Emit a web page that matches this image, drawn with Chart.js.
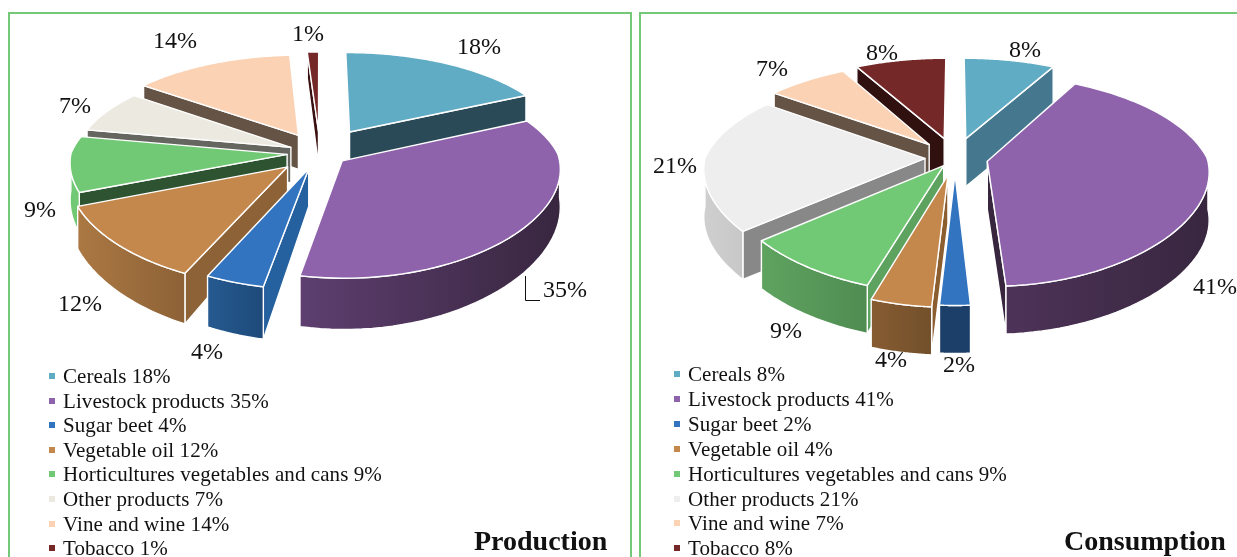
<!DOCTYPE html>
<html lang="en">
<head>
    <meta charset="UTF-8">
    <title>Production and consumption shares</title>
    <script src="https://cdn.jsdelivr.net/npm/chart.js"></script>
    <style>
        html, body { margin: 0; padding: 0; background: #fff; }
        body { position: relative; width: 1237px; height: 557px; overflow: hidden; font-family: "Liberation Serif", serif; color: #111; }
        .panel { position: absolute; top: 12px; height: 600px; border: 2px solid #74c978; box-sizing: border-box; }
        canvas { position: absolute; top: 0; }
        .row { position: absolute; font-size: 21px; letter-spacing: 0.08px; line-height: 24px; white-space: nowrap; }
        .mark { position: absolute; width: 6px; height: 6px; }
        .title { position: absolute; font-size: 28px; font-weight: bold; line-height: 32px; white-space: nowrap; }
    </style>
</head>
<body>
    <div class="panel" style="left:8px;width:624px"></div>
    <div class="panel" style="left:639px;width:620px"></div>
    <canvas id="productionChart" width="636" height="557" style="left:0"></canvas>
    <canvas id="consumptionChart" width="601" height="557" style="left:636px"></canvas>
    <script>
        // Chart values
        const categories = ['Cereals', 'Livestock products', 'Sugar beet', 'Vegetable oil', 'Horticultures vegetables and cans', 'Other products', 'Vine and wine', 'Tobacco'];
        const productionValues = [18, 35, 4, 12, 9, 7, 14, 1];
        const consumptionValues = [8, 41, 2, 4, 9, 21, 7, 8];

        const topColors = ['#60acc5', '#8e63ac', '#3274c0', '#c4874c', '#72c975', '#eceae0', '#fbd2b4', '#752828'];
        const consumptionTop = ['#60acc5', '#8e63ac', '#3274c0', '#c4874c', '#72c975', '#eeeeee', '#fbd2b4', '#752828'];

        // Look of each pie: explode distance, side colours, label centres
        const productionView = {
            offsets: [57, 28, 36, 44, 33, 32, 46, 50],
            flat: 0.45, persp: 0.15, depth: 36, depthPow: 2, leader: true,
            wall: ['#2b4a58', '#38263f', '#25609f', '#8d6236', '#2d5330', '#666660', '#655345', '#3a1010'],
            bandFrom: ['#2b4a58', '#5e3f70', '#265a90', '#ab7843', '#72c975', '#bdbbb3', '#c9a890', '#3a1010'],
            bandTo: ['#2b4a58', '#38263f', '#1d4a7a', '#8d6236', '#72c975', '#bdbbb3', '#c9a890', '#3a1010'],
            labelX: [479, 565, 207, 80, 40, 75, 175, 308],
            labelY: [48, 291, 353, 305, 211, 107, 42, 35]
        };
        const consumptionView = {
            offsets: [45, 33, 34, 37, 20, 30, 40, 45],
            flat: 0.46, persp: 0.18, depth: 48, depthPow: 0, leader: false,
            wall: ['#45788f', '#38263f', '#1c3f6a', '#8b5e30', '#5da35f', '#888888', '#655345', '#311010'],
            bandFrom: ['#45788f', '#4d3358', '#1c3f6a', '#875c32', '#5fa360', '#cfcfcf', '#c9a890', '#311010'],
            bandTo: ['#45788f', '#38263f', '#1c3f6a', '#72502b', '#4f8c51', '#c8c8c8', '#c9a890', '#311010'],
            labelX: [389, 579, 323, 255, 150, 39, 136, 246],
            labelY: [51, 288, 366, 361, 332, 167, 70, 54]
        };

        // Draws the arcs the library laid out as raised, tilted slices
        const pie3d = {
            id: 'pie3d',
            beforeDatasetsDraw(chart, args, opts) {
                const view = opts.view;
                const ctx = chart.ctx;
                const arcs = chart.getDatasetMeta(0).data;
                const R = arcs[0].outerRadius;
                const cx = arcs[0].x;
                const cy = arcs[0].y;

                function project(px, py) {
                    const w = 1 / (1 - view.persp * py / R);
                    return {
                        // near side spreads less sideways than it drops
                        x: cx + px * (w < 1 ? w : Math.sqrt(w)),
                        y: cy + py * view.flat * w,
                        d: view.depth * Math.pow(w, view.depthPow)
                    };
                }
                function down(p) {
                    return { x: p.x, y: p.y + p.d };
                }
                function poly(points, fill) {
                    ctx.beginPath();
                    points.forEach((p, i) => i ? ctx.lineTo(p.x, p.y) : ctx.moveTo(p.x, p.y));
                    ctx.closePath();
                    ctx.fillStyle = fill;
                    ctx.fill();
                    ctx.stroke();
                }

                const order = arcs.map((arc, i) => i).sort((a, b) => {
                    const mid = i => (arcs[i].startAngle + arcs[i].endAngle) / 2;
                    return Math.sin(mid(a)) - Math.sin(mid(b));
                });

                ctx.save();
                ctx.strokeStyle = '#ffffff';
                ctx.lineWidth = 1.4;
                ctx.lineJoin = 'round';

                order.forEach(i => {
                    const arc = arcs[i];
                    const mid = (arc.startAngle + arc.endAngle) / 2;
                    const off = arc.options.offset;
                    const ox = Math.cos(mid) * off;
                    const oy = Math.sin(mid) * off;
                    const at = a => project(ox + Math.cos(a) * R, oy + Math.sin(a) * R);
                    const apex = project(ox, oy);
                    const s = arc.startAngle;
                    const e = arc.endAngle;

                    // radial walls, only the ones facing the viewer
                    if (Math.cos(s) < 0) {
                        const p = at(s);
                        poly([apex, p, down(p), down(apex)], view.wall[i]);
                    }
                    if (Math.cos(e) > 0) {
                        const p = at(e);
                        poly([apex, p, down(p), down(apex)], view.wall[i]);
                    }

                    // outer wall on the near half
                    const a0 = Math.max(s, 0);
                    const a1 = Math.min(e, Math.PI);
                    if (a1 > a0) {
                        const rim = [];
                        for (let k = 0; k <= 40; k++) {
                            rim.push(at(a0 + (a1 - a0) * k / 40));
                        }
                        const xs = rim.map(p => p.x);
                        const grad = ctx.createLinearGradient(Math.min(...xs), 0, Math.max(...xs), 0);
                        // the band colours run left to right on screen
                        grad.addColorStop(0, view.bandFrom[i]);
                        grad.addColorStop(1, view.bandTo[i]);
                        poly(rim.concat(rim.map(down).reverse()), grad);
                    }

                    // top face
                    const face = [apex];
                    for (let k = 0; k <= 60; k++) {
                        face.push(at(s + (e - s) * k / 60));
                    }
                    poly(face, arc.options.backgroundColor);
                });

                // value labels
                ctx.fillStyle = '#111111';
                ctx.font = '24px "Liberation Serif"';
                ctx.textAlign = 'center';
                ctx.textBaseline = 'middle';
                chart.data.datasets[0].data.forEach((v, i) => {
                    ctx.fillText(v + '%', view.labelX[i], view.labelY[i]);
                });
                if (view.leader) {
                    // leader of the 35% label
                    ctx.strokeStyle = '#111111';
                    ctx.lineWidth = 1;
                    ctx.beginPath();
                    ctx.moveTo(525.5, 276);
                    ctx.lineTo(525.5, 300.5);
                    ctx.lineTo(540, 300.5);
                    ctx.stroke();
                }
                ctx.restore();
                return false;
            }
        };

        function makePie(canvasId, values, colors, view, padding, radius) {
            const ctx = document.getElementById(canvasId).getContext('2d');
            return new Chart(ctx, {
                type: 'pie',
                data: {
                    labels: categories,
                    datasets: [{
                        data: values,
                        backgroundColor: colors,
                        offset: view.offsets,
                        borderWidth: 0
                    }]
                },
                options: {
                    responsive: false,
                    animation: false,
                    events: [],
                    radius: radius,
                    layout: { padding: padding },
                    plugins: {
                        legend: { display: false },
                        tooltip: { enabled: false },
                        pie3d: { view: view }
                    }
                },
                plugins: [pie3d]
            });
        }

        function addLegend(values, colors, markX, textX, rows) {
            categories.forEach((name, i) => {
                const row = document.createElement('div');
                row.className = 'row';
                row.style.left = textX + 'px';
                row.style.top = (rows[i] - 12) + 'px';
                row.textContent = name + ' ' + values[i] + '%';
                document.body.appendChild(row);
                const mark = document.createElement('div');
                mark.className = 'mark';
                mark.style.left = markX + 'px';
                mark.style.top = (rows[i] - 3) + 'px';
                mark.style.background = colors[i];
                document.body.appendChild(mark);
            });
        }

        function addTitle(text, left) {
            const title = document.createElement('div');
            title.className = 'title';
            title.style.left = left + 'px';
            title.style.top = '525px';
            title.textContent = text;
            document.body.appendChild(title);
        }

        makePie('productionChart', productionValues, topColors, productionView, { left: 4, right: 0, top: 0, bottom: 251 }, 216);
        makePie('consumptionChart', consumptionValues, consumptionTop, consumptionView, { left: 37, right: 0, top: 0, bottom: 241 }, 220);

        addLegend(productionValues, topColors, 49, 63, [376, 401, 425, 450, 474, 499, 524, 548]);
        addLegend(consumptionValues, consumptionTop, 674, 688, [374, 399, 424, 449, 474, 499, 523, 548]);
        addTitle('Production', 474);
        addTitle('Consumption', 1064);
    </script>
</body>
</html>
